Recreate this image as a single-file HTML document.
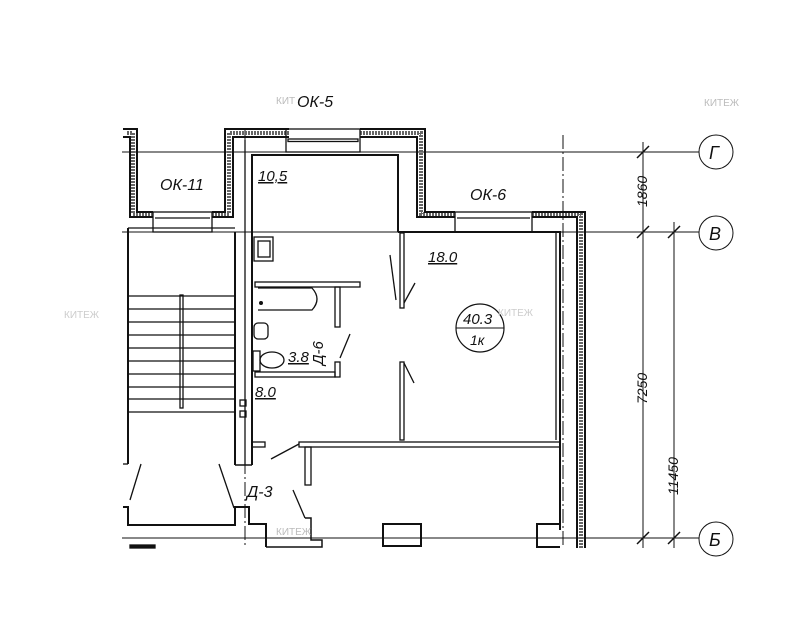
<!DOCTYPE html>
<html><head><meta charset="utf-8"><style>
html,body{margin:0;padding:0;background:#fff;}
svg{display:block;}
text{font-family:"Liberation Sans",sans-serif;font-style:italic;fill:#111;}
</style></head><body>
<svg width="801" height="640" viewBox="0 0 801 640" xmlns="http://www.w3.org/2000/svg">
<rect width="801" height="640" fill="#fff"/>
<g stroke="#111" fill="none" stroke-width="1">
<line x1="122" y1="152" x2="699" y2="152"/>
<line x1="122" y1="232" x2="699" y2="232"/>
<line x1="122" y1="538" x2="699" y2="538"/>
<circle cx="716" cy="152" r="17"/>
<circle cx="716" cy="233" r="17"/>
<circle cx="716" cy="539" r="17"/>
<line x1="643" y1="142" x2="643" y2="548"/>
<line x1="674" y1="222" x2="674" y2="548"/>
<line x1="637" y1="158" x2="649" y2="146" stroke-width="1.5"/>
<line x1="637" y1="238" x2="649" y2="226" stroke-width="1.5"/>
<line x1="637" y1="544" x2="649" y2="532" stroke-width="1.5"/>
<line x1="668" y1="238" x2="680" y2="226" stroke-width="1.5"/>
<line x1="668" y1="544" x2="680" y2="532" stroke-width="1.5"/>
<line x1="563" y1="135" x2="563" y2="548" stroke-dasharray="14,3,2,3"/>
<line x1="245" y1="130" x2="245" y2="548" stroke-dasharray="14,3,2,3"/>
</g>
<g stroke="#666" fill="none" stroke-width="4" stroke-dasharray="2,1">
<path d="M127,133 H133 V214 H153"/>
<path d="M212,214 H229 V133 H289"/>
<path d="M360,133 H421 V214 H455"/>
<path d="M532,214 H581 V548"/>
</g>
<g stroke="#111" fill="none" stroke-width="2">
<path d="M123,129 H137 V212 H153"/>
<path d="M123,137 H130 V217 H153"/>
<path d="M212,212 H225 V129 H289"/>
<path d="M212,217 H233 V137 H289"/>
<path d="M360,129 H425 V212 H455"/>
<path d="M360,137 H417 V217 H455"/>
<path d="M532,212 H585 V548"/>
<path d="M532,217 H577 V548"/>
</g>
<g stroke="#111" fill="none" stroke-width="1.3">
<rect x="153" y="212" width="59" height="20"/>
<line x1="155" y1="218" x2="210" y2="218"/>
<rect x="286" y="129" width="74" height="23"/>
<rect x="288" y="139" width="70" height="2.5"/>
<rect x="455" y="212" width="77" height="20"/>
<line x1="457" y1="218" x2="530" y2="218"/>
<path d="M252,465 V155 H398 V232" stroke-width="2"/>
<line x1="245" y1="140" x2="245" y2="465"/>
<line x1="235" y1="232" x2="235" y2="465" stroke-width="2"/>
<line x1="235" y1="465" x2="252" y2="465" stroke-width="1.5"/>
<path d="M398,232 H560 V530" stroke-width="2"/>
<line x1="556" y1="232" x2="556" y2="440"/>
<rect x="400" y="233" width="4" height="75"/>
<rect x="400" y="362" width="4" height="78"/>
<line x1="390" y1="255" x2="396" y2="300"/>
<line x1="404" y1="303" x2="415" y2="283"/>
<line x1="404" y1="363" x2="414" y2="383"/>
<rect x="299" y="442" width="261" height="5"/>
<line x1="299" y1="444" x2="271" y2="459"/>
<rect x="305" y="447" width="6" height="38"/>
<rect x="252" y="442" width="13" height="5"/>
<rect x="254" y="237" width="19" height="24"/>
<rect x="258" y="241" width="12" height="16"/>
<rect x="255" y="282" width="105" height="5"/>
<rect x="335" y="287" width="5" height="40"/>
<rect x="335" y="362" width="5" height="15"/>
<rect x="255" y="372" width="80" height="5"/>
<line x1="340" y1="358" x2="350" y2="334"/>
<path d="M258,288 H312 Q322,299 312,310 H258"/>
<rect x="254" y="323" width="14" height="16" rx="4"/>
<rect x="253" y="351" width="7" height="20"/>
<ellipse cx="272" cy="360" rx="12" ry="8"/>
<line x1="128" y1="228" x2="128" y2="464" stroke-width="2"/>
<line x1="128" y1="228" x2="235" y2="228" stroke-width="1.3"/>
<rect x="180" y="295" width="3" height="113"/>
<g stroke-width="1.2">
<line x1="128" y1="296" x2="235" y2="296"/><line x1="128" y1="309" x2="235" y2="309"/>
<line x1="128" y1="322" x2="235" y2="322"/><line x1="128" y1="335" x2="235" y2="335"/>
<line x1="128" y1="348" x2="235" y2="348"/><line x1="128" y1="361" x2="235" y2="361"/>
<line x1="128" y1="374" x2="235" y2="374"/><line x1="128" y1="387" x2="235" y2="387"/>
<line x1="128" y1="399" x2="235" y2="399"/><line x1="128" y1="412" x2="235" y2="412"/>
</g>
<line x1="123" y1="464" x2="128" y2="464"/>
<line x1="141" y1="464" x2="130" y2="500"/>
<line x1="219" y1="464" x2="234" y2="508"/>
<path d="M123,507 H128 V525 H235 V507 H249 V524 H266 V547" stroke-width="2"/>
<line x1="293" y1="490" x2="305" y2="518"/>
<path d="M305,518 H311 V540 H322 V547 H266" stroke-width="1.5"/>
<rect x="383" y="524" width="38" height="22" stroke-width="2"/>
<path d="M560,524 H537 V547 H560" stroke-width="2"/>
<rect x="130" y="545" width="25" height="3" fill="#111"/>
<rect x="240" y="400" width="6" height="6"/><rect x="240" y="411" width="6" height="6"/>
</g>
<circle cx="261" cy="303" r="2" fill="#111"/>
<text x="297" y="107" font-size="16">ОК-5</text>
<text x="160" y="190" font-size="16">ОК-11</text>
<text x="470" y="200" font-size="16">ОК-6</text>
<text x="258" y="181" font-size="15" text-decoration="underline">10,5</text>
<text x="428" y="262" font-size="15" text-decoration="underline">18.0</text>
<text x="288" y="362" font-size="15" text-decoration="underline">3.8</text>
<text x="255" y="397" font-size="15" text-decoration="underline">8.0</text>
<text x="247" y="497" font-size="16">Д-3</text>
<text transform="translate(323,365) rotate(-90)" font-size="15">Д-6</text>
<circle cx="480" cy="328" r="24" fill="none" stroke="#111" stroke-width="1.2"/>
<line x1="456" y1="328" x2="504" y2="328" stroke="#111" stroke-width="1"/>
<text x="463" y="324" font-size="15">40.3</text>
<text x="470" y="345" font-size="14">1к</text>
<text transform="translate(647,207) rotate(-90)" font-size="14">1860</text>
<text transform="translate(647,404) rotate(-90)" font-size="14">7250</text>
<text transform="translate(678,495) rotate(-90)" font-size="14">11450</text>
<text x="709" y="159" font-size="18">Г</text>
<text x="709" y="240" font-size="18">В</text>
<text x="709" y="546" font-size="18">Б</text>
<g font-size="10">
<text x="704" y="106" style="fill:#bbb;font-style:normal">КИТЕЖ</text>
<text x="64" y="318" style="fill:#ccc;font-style:normal">КИТЕЖ</text>
<text x="498" y="316" style="fill:#ccc;font-style:normal">КИТЕЖ</text>
<text x="276" y="535" style="fill:#bbb;font-style:normal">КИТЕЖ</text>
<text x="276" y="104" style="fill:#bbb;font-style:normal">КИТ</text>
</g>
</svg>
</body></html>
